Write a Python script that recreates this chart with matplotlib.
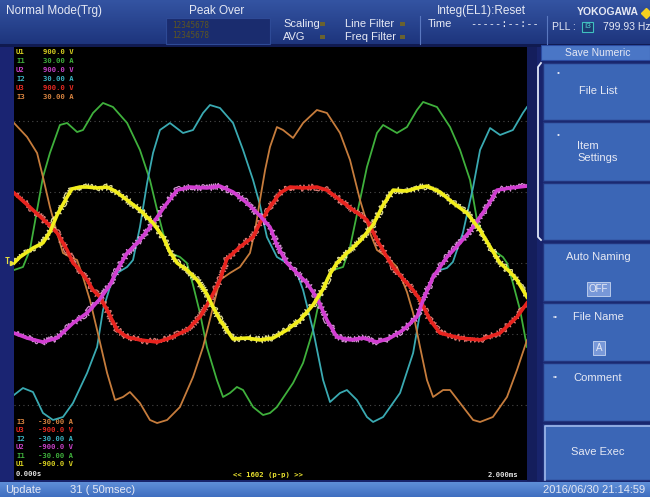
import numpy as np
import matplotlib
matplotlib.use("Agg")
import matplotlib.pyplot as plt
from matplotlib.patches import Rectangle

# ---------------- waveform data (time in ms, volts / amps) ----------------
u1_t = [0.000, 0.023, 0.051, 0.074, 0.113, 0.140, 0.168, 0.207, 0.226, 0.257, 0.285, 0.324,
        0.363, 0.394, 0.441, 0.491, 0.542, 0.581, 0.608, 0.636, 0.675, 0.714, 0.752, 0.776,
        0.803, 0.830, 0.854, 0.908, 0.959, 1.010, 1.064, 1.115, 1.166, 1.205, 1.232, 1.259,
        1.298, 1.349, 1.400, 1.439, 1.478, 1.532, 1.571, 1.610, 1.661, 1.712, 1.766, 1.817,
        1.856, 1.895, 1.934, 1.961, 2.000]
u1_v = [0, 25, 46, 63, 85, 131, 203, 279, 313, 321, 321, 317,
        321, 304, 266, 224, 169, 110, 46, 0, -30, -72, -131, -186,
        -241, -283, -321, -317, -325, -317, -283, -241, -177, -110, -46, 0,
        42, 93, 161, 245, 308, 304, 317, 325, 300, 254, 211, 139,
        68, 0, -38, -72, -144]

u2_t = [0.000, 0.051, 0.113, 0.168, 0.230, 0.285, 0.335, 0.374, 0.402, 0.441, 0.491, 0.542,
        0.597, 0.636, 0.686, 0.752, 0.803, 0.854, 0.908, 0.959, 0.998, 1.025, 1.064, 1.103,
        1.142, 1.181, 1.220, 1.259, 1.310, 1.361, 1.415, 1.466, 1.517, 1.571, 1.595, 1.634,
        1.688, 1.739, 1.790, 1.844, 1.883, 1.934, 2.000]
u2_v = [-296, -317, -334, -317, -254, -211, -152, -93, -30, 42, 97, 169,
        254, 308, 321, 317, 325, 300, 254, 199, 152, 76, 0, -42,
        -85, -148, -241, -313, -325, -317, -334, -317, -283, -228, -156, -59,
        25, 85, 152, 237, 308, 317, 325]

u3_t = [0.000, 0.074, 0.129, 0.168, 0.207, 0.230, 0.246, 0.285, 0.308, 0.335, 0.363, 0.402,
        0.441, 0.491, 0.558, 0.608, 0.675, 0.725, 0.764, 0.803, 0.830, 0.881, 0.932, 0.959,
        0.998, 1.037, 1.076, 1.127, 1.181, 1.220, 1.271, 1.322, 1.376, 1.415, 1.454, 1.478,
        1.517, 1.556, 1.583, 1.622, 1.661, 1.739, 1.817, 1.895, 1.961, 2.000]
u3_v = [296, 224, 169, 127, 55, 0, -17, -72, -114, -144, -199, -283,
        -313, -325, -334, -317, -283, -228, -156, -72, 17, 68, 110, 169,
        237, 296, 321, 317, 321, 308, 266, 224, 182, 97, 25, -17,
        -68, -114, -156, -241, -296, -317, -325, -296, -228, -169]

i1_t = [0.000, 0.035, 0.062, 0.090, 0.113, 0.140, 0.179, 0.207, 0.246, 0.269, 0.308, 0.347,
        0.386, 0.441, 0.491, 0.530, 0.558, 0.581, 0.608, 0.647, 0.674, 0.698, 0.725, 0.752,
        0.791, 0.815, 0.842, 0.869, 0.893, 0.932, 0.971, 0.998, 1.025, 1.088, 1.127, 1.166,
        1.193, 1.220, 1.244, 1.283, 1.310, 1.349, 1.376, 1.415, 1.439, 1.493, 1.532, 1.571,
        1.595, 1.649, 1.700, 1.739, 1.778, 1.805, 1.844, 1.867, 1.906, 1.922, 1.945, 1.973,
        2.000]
i1_a = [-0.99, -0.56, 1.83, 7.46, 12.11, 15.49, 19.44, 19.72, 18.45, 18.73, 21.13, 22.54,
        21.97, 19.72, 15.92, 11.69, 7.46, 4.23, 1.41, 0.85, 0.00, -3.10, -7.04, -11.83,
        -16.48, -18.87, -18.31, -17.46, -17.89, -20.28, -21.41, -21.13, -20.28, -16.90, -14.08, -9.44,
        -4.79, -2.11, -0.99, -0.56, 2.25, 8.87, 13.52, 18.31, 19.44, 18.31, 19.15, 21.55,
        22.68, 21.97, 19.15, 15.92, 11.69, 6.06, 2.82, 1.83, 0.85, 0.00, -2.82, -6.62,
        -11.83]

i2_t = [0.000, 0.035, 0.074, 0.113, 0.152, 0.191, 0.230, 0.285, 0.324, 0.347, 0.374, 0.402,
        0.441, 0.464, 0.491, 0.519, 0.542, 0.569, 0.608, 0.659, 0.698, 0.737, 0.764, 0.803,
        0.854, 0.893, 0.932, 0.959, 0.986, 1.025, 1.064, 1.103, 1.127, 1.166, 1.205, 1.232,
        1.271, 1.298, 1.337, 1.376, 1.400, 1.439, 1.505, 1.556, 1.583, 1.610, 1.634, 1.661,
        1.688, 1.711, 1.750, 1.790, 1.817, 1.856, 1.895, 1.945, 1.984, 2.000]
i2_a = [-18.59, -17.61, -18.17, -21.13, -22.11, -21.69, -19.72, -15.49, -11.83, -6.62, -3.38, -1.41,
        -0.56, 0.42, 5.07, 11.27, 15.49, 18.73, 19.72, 18.31, 18.73, 21.13, 22.25, 21.83,
        19.72, 15.92, 11.69, 8.17, 3.66, 0.85, 0.00, -1.41, -3.80, -9.44, -16.48, -19.58,
        -18.31, -17.89, -19.30, -21.69, -22.39, -21.69, -18.31, -12.68, -7.04, -3.80, -1.69, -0.99,
        -0.70, 0.14, 4.23, 10.70, 15.92, 19.01, 18.03, 18.73, 21.13, 21.97]

i3_t = [0.000, 0.051, 0.090, 0.113, 0.140, 0.168, 0.191, 0.218, 0.246, 0.269, 0.296, 0.324,
        0.363, 0.394, 0.425, 0.452, 0.491, 0.530, 0.558, 0.597, 0.647, 0.698, 0.737, 0.776,
        0.803, 0.842, 0.881, 0.920, 0.940, 0.959, 0.979, 0.998, 1.025, 1.049, 1.088, 1.127,
        1.181, 1.220, 1.271, 1.310, 1.349, 1.388, 1.415, 1.454, 1.493, 1.532, 1.556, 1.583,
        1.610, 1.634, 1.673, 1.700, 1.739, 1.790, 1.817, 1.867, 1.922, 1.961, 2.000]
i3_a = [19.72, 17.75, 15.49, 12.11, 7.89, 4.23, 1.41, 0.85, 0.42, -1.97, -5.21, -9.44,
        -15.49, -19.30, -18.87, -18.17, -19.72, -22.11, -22.54, -22.11, -20.28, -16.06, -11.83, -6.20,
        -2.39, -1.41, -0.56, 1.41, 4.65, 8.87, 13.10, 16.34, 19.15, 18.73, 17.61, 19.72,
        21.55, 21.13, 18.31, 14.51, 8.87, 4.23, 1.83, 0.85, -0.56, -4.08, -7.04, -11.83,
        -16.48, -18.87, -17.89, -17.89, -19.72, -22.11, -22.39, -21.69, -18.87, -15.07, -10.85]

# channel range labels
range_names = ["U1", "I1", "U2", "I2", "U3", "I3"]
range_top = ["900.0 V", "30.00 A", "900.0 V", "30.00 A", "900.0 V", "30.00 A"]
range_bottom = ["-900.0 V", "-30.00 A", "-900.0 V", "-30.00 A", "-900.0 V", "-30.00 A"]

V_RANGE = 900.0
I_RANGE = 30.0
T_START, T_END = 0.0, 2.0

# ---------------- colours ----------------
C_U1, C_U1_HALO = "#f2ee1c", "#f8f4a8"
C_U2, C_U2_HALO = "#d23ed2", "#eca4ec"
C_U3, C_U3_HALO = "#e8231e", "#f48a82"
C_I1 = "#3fb03c"
C_I2 = "#3aaab2"
C_I3 = "#c67c3c"
label_colors = ["#d8d020", C_I1, "#c842c8", "#3cb4c4", "#e82a22", "#d88440"]

NAVY = "#18246c"
BTN = "#3b66b6"
TXT = "#e6e9f4"
SCREEN_FONT = ["Liberation Sans Narrow", "Liberation Sans", "DejaVu Sans"]
MONO_FONT = ["DejaVu Sans Mono"]

W, H = 650, 497
fig = plt.figure(figsize=(W / 100, H / 100), dpi=100)
fig.patch.set_facecolor(NAVY)

# full-screen canvas in pixel coordinates
bg = fig.add_axes([0, 0, 1, 1])
bg.set_xlim(0, W)
bg.set_ylim(H, 0)
bg.axis("off")


def rect(x0, y0, x1, y1, fc, ec="none", lw=0, z=1):
    bg.add_patch(Rectangle((x0, y0), x1 - x0, y1 - y0, facecolor=fc,
                           edgecolor=ec, linewidth=lw, zorder=z))


def gradient(x0, y0, x1, y1, top, bottom, z=1):
    c0 = np.array(matplotlib.colors.to_rgb(top))
    c1 = np.array(matplotlib.colors.to_rgb(bottom))
    f = np.linspace(0, 1, 64)[:, None]
    img = (c0 * (1 - f) + c1 * f)[:, None, :]
    bg.imshow(img, extent=(x0, x1, y1, y0), aspect="auto", zorder=z,
              interpolation="bilinear")


def txt(x, y, s, color=TXT, size=8, ha="left", family=None, weight="normal", z=5):
    bg.text(x, y, s, color=color, fontsize=size, ha=ha, va="center",
            family=family or SCREEN_FONT, fontweight=weight, zorder=z)


# ---------------- header bar ----------------
gradient(0, 0, W, 45, "#3454a2", "#1d347c")
rect(0, 44, W, 47, "#101a50", z=2)
txt(6, 11, "Normal Mode(Trg)", size=8.5)
txt(217, 11, "Peak Over", size=8.5, ha="center")
rect(166, 18, 270, 44, "#1a2c6e", ec="#2e4a96", lw=0.8, z=2)
txt(172, 25, "12345678", color="#5e5620", size=5.5, family=MONO_FONT)
txt(172, 35, "12345678", color="#5e5620", size=5.5, family=MONO_FONT)
txt(283, 24, "Scaling", size=8)
txt(283, 37, "AVG", size=8)
for yy in (24, 37):
    rect(320, yy - 2, 325, yy + 2, "#6a6230", z=3)
    rect(400, yy - 2, 405, yy + 2, "#6a6230", z=3)
txt(345, 24, "Line Filter", size=8)
txt(345, 37, "Freq Filter", size=8)
bg.plot([420, 420], [16, 44], color="#5a78c0", lw=0.8, zorder=3)
txt(481, 11, "Integ(EL1):Reset", size=8.5, ha="center")
txt(428, 24, "Time", size=8)
txt(505, 24, "-----:--:--", size=7.5, ha="center", family=MONO_FONT)
bg.plot([547, 547], [16, 44], color="#5a78c0", lw=0.8, zorder=3)
txt(639, 12, "YOKOGAWA", size=7.5, ha="right", weight="bold")
bg.plot([646], [13], marker="D", color="#f4d020", markersize=5, zorder=6)
txt(552, 27, "PLL :", size=7.5)
rect(582, 22, 593, 32, "#1c3a70", ec="#40c0c0", lw=0.8, z=4)
txt(587.5, 27, "I3", color="#50d0d0", size=6, ha="center")
txt(603, 27, "799.93 Hz", size=7.5)

# ---------------- screen frame ----------------
rect(0, 47, 14, 481, "#1a2472", z=1)
rect(14, 47, 527, 480, "black", z=1)
rect(527, 47, 537, 481, "#141e5c", z=1)

# ---------------- waveform axes ----------------
px_left, px_right, px_top, px_bottom = 14, 527, 50, 476
axv = fig.add_axes([px_left / W, (H - px_bottom) / H,
                    (px_right - px_left) / W, (px_bottom - px_top) / H])
axi = axv.twinx()
for ax in (axv, axi):
    ax.set_xlim(T_START, T_END)
    ax.patch.set_visible(False)
    for sp in ax.spines.values():
        sp.set_visible(False)
    ax.tick_params(length=0, labelleft=False, labelbottom=False, labelright=False)
axv.set_ylim(-V_RANGE, V_RANGE)
axi.set_ylim(-I_RANGE, I_RANGE)
axv.set_zorder(axi.get_zorder() + 1)

axi.set_xticks(np.round(np.arange(0.2, 2.0, 0.2), 3))
axi.set_yticks(np.linspace(-I_RANGE, I_RANGE, 7)[1:-1])
axi.grid(True, color="#4a4a4a", linestyle=(0, (1, 3)), linewidth=0.8)
axi.set_axisbelow(True)
axv.set_xticks([])
axv.set_yticks([])

# currents: thin traces
for t, a, c in ((i1_t, i1_a, C_I1), (i2_t, i2_a, C_I2), (i3_t, i3_a, C_I3)):
    axi.plot(t, a, color=c, lw=1.3, solid_joinstyle="round", zorder=3)

# voltages: thick traces with fine switching ripple around them
for t, v, c, halo in ((u3_t, u3_v, C_U3, C_U3_HALO),
                      (u2_t, u2_v, C_U2, C_U2_HALO),
                      (u1_t, u1_v, C_U1, C_U1_HALO)):
    ln, = axv.plot(t, v, color=halo, lw=0.9, alpha=0.9, zorder=3)
    ln.set_sketch_params(scale=3.2, length=0.7, randomness=1.5)
    axv.plot(t, v, color=c, lw=2.6, solid_joinstyle="round", zorder=4)

# trigger mark
txt(7, 262, "T", color="#e8e040", size=6, ha="center", family=MONO_FONT, weight="bold")
bg.plot([12], [263], marker=">", color="#e8e040", markersize=3, zorder=6)

# range labels
LBL = 5.2
for k, (name, val) in enumerate(zip(range_names, range_top)):
    y = 52 + 9 * k
    txt(16, y, name, color=label_colors[k], size=LBL, family=MONO_FONT, weight="bold")
    txt(43, y, val, color=label_colors[k], size=LBL, family=MONO_FONT, weight="bold")
for k in range(6):
    idx = 5 - k
    y = 422 + 8.4 * k
    txt(16, y, range_names[idx], color=label_colors[idx], size=LBL, family=MONO_FONT, weight="bold")
    txt(38, y, range_bottom[idx], color=label_colors[idx], size=LBL, family=MONO_FONT, weight="bold")

txt(16, 474, "0.000s", color="#e0e0e0", size=LBL, family=MONO_FONT, weight="bold")
txt(268, 475, "<< 1602 (p-p) >>", color="#e8e030", size=LBL, ha="center", family=MONO_FONT, weight="bold")
txt(518, 475, "2.000ms", color="#e0e0e0", size=LBL, ha="right", family=MONO_FONT, weight="bold")

# ---------------- soft-key panel ----------------
rect(537, 44, W, 482, NAVY, z=1)
rect(541, 45, W, 60, "#4a76c6", ec="#2a4aa0", lw=0.8, z=2)
txt(598, 52.5, "Save Numeric", size=7.5, ha="center")

buttons = [(63, 120), (122, 181), (183, 240), (243, 301), (303, 361), (363, 421), (424, 480)]
for y0, y1 in buttons:
    rect(543, y0, W + 2, y1, BTN, ec="#22357e", lw=1.0, z=2)
# raised frame of the exec key
bg.plot([544.5, 544.5, W], [480, 425.5, 425.5], color="#9fb8ea", lw=1.2, zorder=3)
# group bracket
bg.plot([541, 538, 538, 541], [63, 67, 237, 240], color="#dfe6f6", lw=1.3, zorder=3)

txt(557, 73, "•", size=6)
txt(598, 91, "File List", size=8, ha="center")
txt(557, 135, "•", size=6)
txt(577, 146, "Item", size=8)
txt(577, 158, "Settings", size=8)
txt(598, 257, "Auto Naming", size=8, ha="center")
rect(587, 282, 610, 296, "#7898d8", ec="#c8d6f0", lw=0.6, z=3)
txt(598.5, 289.5, "OFF", size=7, ha="center")
txt(553, 317, "\u25ab\u2022", size=5)
txt(598, 317, "File Name", size=8, ha="center")
rect(593, 341, 605, 355, "#7898d8", ec="#c8d6f0", lw=0.6, z=3)
txt(599, 348, "A", size=7, ha="center")
txt(553, 378, "\u25ab\u2022", size=5)
txt(598, 378, "Comment", size=8, ha="center")
txt(598, 452, "Save Exec", size=8, ha="center")

# ---------------- status bar ----------------
gradient(0, 482, W, H, "#5f8fd8", "#3f6ec0", z=2)
txt(5, 490, "Update", size=8)
txt(70, 490, "31 ( 50msec)", size=8)
txt(645, 490, "2016/06/30 21:14:59", size=8, ha="right")

fig.savefig("out.png", dpi=100, facecolor=fig.get_facecolor())
